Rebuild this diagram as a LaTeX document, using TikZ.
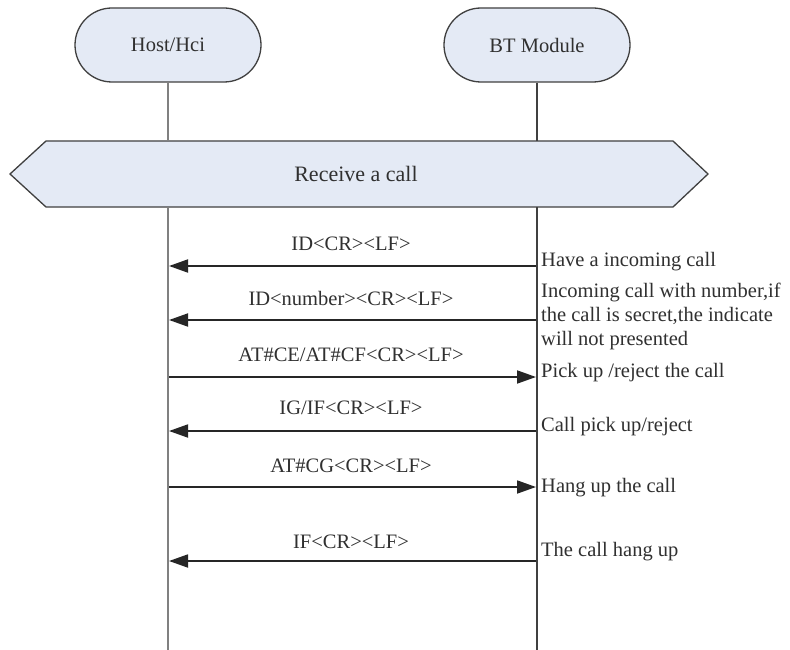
\documentclass[tikz,border=0pt]{standalone}
\usepackage{fontspec}
\setmainfont{Liberation Serif}
\newfontfamily\tnr{Liberation Serif}
\usetikzlibrary{arrows.meta}
\definecolor{boxfill}{HTML}{E4EAF5}
\definecolor{boxline}{HTML}{404040}
\definecolor{txt}{HTML}{303030}
\begin{document}
\begin{tikzpicture}[x=1pt,y=-1pt,
  font=\tnr\fontsize{20.5}{24}\selectfont, text=txt,
  actor/.style={draw=boxline, line width=1.3pt, fill=boxfill, rectangle,
    rounded corners=37pt, minimum width=186pt, minimum height=74pt, inner sep=0pt},
  lifeL/.style={draw=gray, line width=2.4pt},
  lifeR/.style={draw=boxline, line width=1.5pt},
  msg/.style={draw=black!85, line width=1.8pt, -{Triangle[length=19pt,width=13pt]}},
  lbl/.style={inner sep=0pt, anchor=center},
  note/.style={inner sep=0pt, anchor=west, align=left}]
\useasboundingbox (0,0) rectangle (790,650);
\fill[white] (0,0) rectangle (790,650);

% actors
\node[actor] (host) at (168,45) {Host/Hci};
\node[actor] (bt) at (537,45) {BT Module};

% banner
\draw[boxline, line width=1.3pt, fill=boxfill]
  (10,174) -- (46,141) -- (673,141) -- (708,174) -- (673,207) -- (46,207) -- cycle;
\node[lbl, font=\tnr\fontsize{22}{26}\selectfont] (banner) at (356,174) {Receive a call};

% lifeline points
\coordinate (hTop) at (168,141);
\coordinate (hBot) at (168,207);
\coordinate (hEnd) at (168,650);
\coordinate (bTop) at (537,141);
\coordinate (bBot) at (537,207);
\coordinate (bEnd) at (537,650);
\draw[lifeL] (host.south) -- (hTop);
\draw[lifeR] (bt.south) -- (bTop);
\draw[lifeL] (hBot) -- (hEnd);
\draw[lifeR] (bBot) -- (bEnd);

% message endpoints
\foreach \i/\y in {1/266,2/320,3/377,4/431,5/487,6/561}{
  \coordinate (L\i) at (169,\y);
  \coordinate (R\i) at (536,\y);
}
\draw[msg] (R1) -- (L1);
\draw[msg] (R2) -- (L2);
\draw[msg] (L3) -- (R3);
\draw[msg] (R4) -- (L4);
\draw[msg] (L5) -- (R5);
\draw[msg] (R6) -- (L6);

% message labels
\node[lbl] (m1) at (351,244) {ID<CR><LF>};
\node[lbl] (m2) at (351,298) {ID<number><CR><LF>};
\node[lbl] (m3) at (351,355) {AT\#CE/AT\#CF<CR><LF>};
\node[lbl] (m4) at (351,408) {IG/IF<CR><LF>};
\node[lbl] (m5) at (351,466) {AT\#CG<CR><LF>};
\node[lbl] (m6) at (351,542) {IF<CR><LF>};

% notes
\node[note] (n1) at (541,262) {Have a incoming call};
\node[note] (n2) at (541,316) {Incoming call with number,if\\the call is secret,the indicate\\will not presented};
\node[note] (n3) at (541,373) {Pick up /reject the call};
\node[note] (n4) at (541,427) {Call pick up/reject};
\node[note] (n5) at (541,488) {Hang up the call};
\node[note] (n6) at (541,552) {The call hang up};
\end{tikzpicture}
\end{document}
